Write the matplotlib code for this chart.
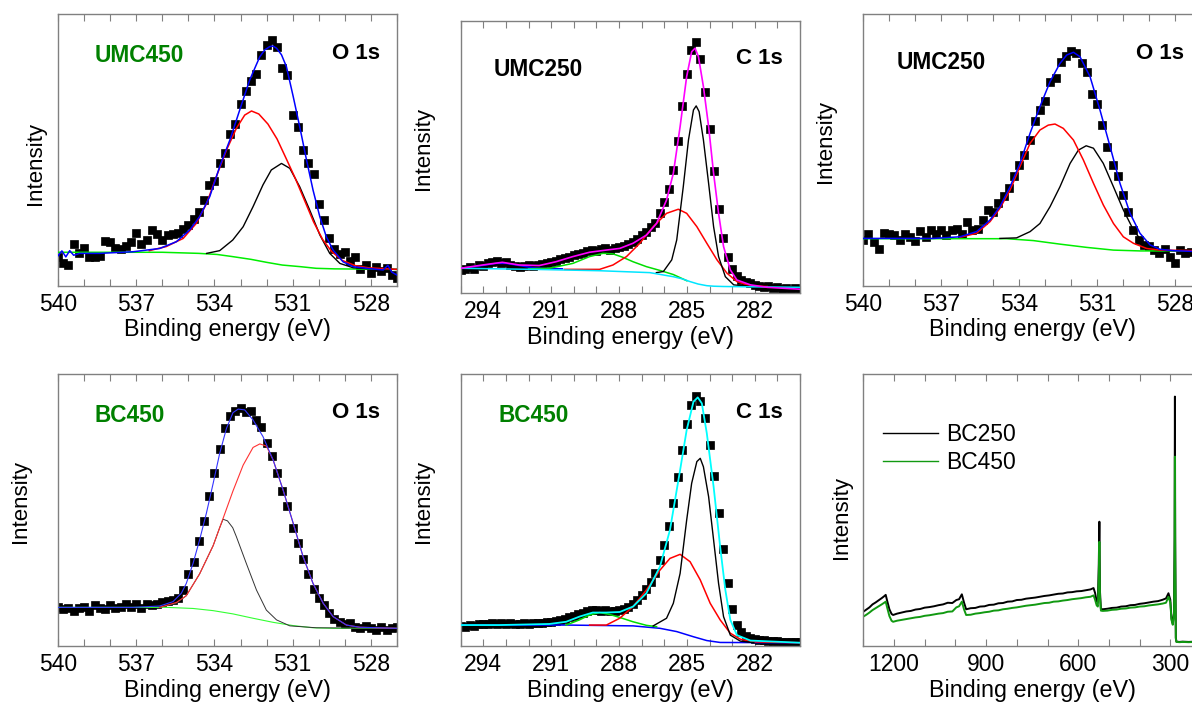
import numpy as np
import matplotlib
matplotlib.use("Agg")
import matplotlib.pyplot as plt
from matplotlib.ticker import MultipleLocator, FormatStrFormatter

plt.rcParams['font.family'] = ['Liberation Sans', 'DejaVu Sans']

# ---------------------------------------------------------------
# UMC450, O 1s  (intensity in % of the plotted range)
umc450_o_be = np.linspace(540.0, 527.0, 66)
umc450_o_counts = [
    10.5, 8.5, 7.5, 15.5, 12.0, 14.0, 10.5, 10.5, 11.0, 16.5,
    16.0, 14.0, 13.5, 14.5, 16.0, 19.5, 15.5, 17.0, 20.5, 19.0,
    17.0, 18.5, 19.0, 19.5, 21.0, 22.5, 24.5, 27.0, 31.5, 37.0,
    38.5, 45.0, 49.0, 56.0, 59.5, 67.0, 71.5, 75.5, 78.0, 85.0,
    88.5, 90.5, 88.0, 80.0, 77.5, 63.0, 58.5, 50.0, 45.0, 41.0,
    30.0, 24.0, 17.5, 13.5, 11.5, 12.5, 9.0, 10.5, 6.0, 7.5,
    4.5, 7.0, 5.5, 6.5, 4.0, 3.0]
umc450_o_env_be = [540.0, 539.85, 539.7, 539.55, 539.4, 539.17, 538.4, 537.12, 536.1,
                   535.46, 534.95, 534.57, 534.18, 533.8, 533.41, 533.03, 532.65,
                   532.26, 532.07, 531.88, 531.75, 531.62, 531.43, 531.24, 530.98,
                   530.73, 530.47, 530.22, 529.96, 529.71, 529.45, 529.07, 528.68,
                   528.17, 527.53, 527.35, 527.2, 527.0]
umc450_o_env = [11.0, 12.8, 10.6, 12.9, 11.2, 11.9, 11.9, 12.5, 13.7,
                16.2, 20.5, 25.4, 32.8, 43.8, 53.6, 64.7, 75.7,
                84.3, 86.8, 88.0, 88.2, 87.4, 85.0, 80.6, 69.6,
                58.5, 46.3, 35.2, 25.4, 18.0, 13.1, 8.8, 7.0,
                6.4, 5.8, 7.5, 5.0, 3.9]
umc450_o_red_be = [536.5, 535.85, 535.2, 534.7, 534.3, 533.93, 533.54, 533.16, 532.84,
                   532.58, 532.3, 531.95, 531.6, 531.25, 530.9, 530.55, 530.2, 529.85,
                   529.5, 529.1, 528.6, 528.1, 527.0]
umc450_o_red = [12.9, 14.4, 17.4, 22.9, 30.3, 40.1, 49.9, 57.9, 62.8,
                64.3, 63.2, 59.5, 54.0, 46.8, 39.5, 31.5, 23.5, 17.0,
                12.5, 9.3, 7.4, 6.6, 6.0]
umc450_o_black_be = [534.3, 533.8, 533.3, 532.9, 532.52, 532.14, 531.82, 531.43, 531.11,
                     530.73, 530.35, 529.96, 529.58, 529.19, 528.68, 528.17, 527.0]
umc450_o_black = [11.9, 12.9, 16.8, 21.7, 29.1, 37.1, 42.6, 45.0, 43.2,
                  36.4, 27.9, 18.7, 11.9, 8.2, 6.6, 6.3, 6.0]
umc450_o_bg_be = [540.0, 536.0, 534.6, 533.9, 533.3, 532.6, 532.0, 531.4, 530.7, 530.1, 529.4, 527.0]
umc450_o_bg = [12.3, 12.3, 11.9, 11.5, 10.7, 9.7, 8.6, 7.6, 7.0, 6.4, 6.2, 6.0]

# ---------------------------------------------------------------
# UMC250, C 1s
umc250_c_be = np.linspace(295.0, 280.0, 76)
umc250_c_counts = [
    8.5, 9.0, 9.5, 9.0, 10.5, 10.0, 11.0, 11.5, 11.8, 11.2,
    11.5, 10.5, 10.0, 9.5, 10.0, 10.5, 10.0, 10.5, 10.8, 11.0,
    11.5, 12.0, 12.5, 12.8, 13.5, 14.0, 14.5, 14.8, 15.5, 15.8,
    15.5, 16.2, 16.5, 16.0, 16.8, 17.0, 17.5, 18.2, 19.0, 20.0,
    21.5, 22.5, 24.5, 26.0, 29.5, 33.5, 38.5, 45.5, 56.0, 69.0,
    80.5, 89.5, 92.5, 86.0, 74.0, 60.5, 45.0, 31.0, 20.5, 13.5,
    9.0, 6.5, 5.0, 4.3, 3.8, 3.0, 2.7, 2.5, 2.6, 1.9,
    2.3, 1.6, 2.0, 1.3, 1.8, 1.2]
umc250_c_env_be = [295.0, 294.04, 293.16, 292.41, 291.53, 290.79, 290.04, 289.3, 288.56,
                   287.97, 287.38, 286.79, 286.34, 285.9, 285.6, 285.3, 285.01, 284.79,
                   284.64, 284.49, 284.27, 284.04, 283.82, 283.6, 283.38, 283.08, 282.79,
                   282.19, 281.45, 280.0]
umc250_c_env = [9.2, 10.4, 11.4, 10.4, 10.2, 11.6, 13.5, 15.1, 15.9,
                16.5, 18.4, 21.4, 25.7, 34.3, 44.1, 61.3, 79.7, 88.8,
                90.1, 87.0, 76.0, 61.3, 44.1, 29.4, 17.2, 8.6, 4.9,
                3.1, 2.2, 1.5]
umc250_c_black_be = [286.35, 286.04, 285.67, 285.45, 285.16, 284.93, 284.71, 284.59, 284.46,
                     284.27, 284.04, 283.82, 283.6, 283.3, 282.93, 282.19]
umc250_c_black = [7.6, 8.0, 12.3, 19.6, 39.2, 56.4, 67.4, 68.9, 66.8,
                  56.4, 40.4, 24.5, 13.5, 6.1, 3.1, 2.5]
umc250_c_red_be = [290.4, 288.86, 288.27, 287.67, 287.08, 286.49, 285.9, 285.38, 285.01,
                   284.56, 284.12, 283.67, 283.23, 282.79, 282.19, 281.45]
umc250_c_red = [8.8, 8.8, 10.4, 13.5, 18.4, 24.5, 29.4, 30.9, 29.4,
                24.5, 18.4, 12.3, 7.4, 4.3, 2.7, 2.5]
umc250_c_green_be = [292.0, 291.08, 290.04, 289.3, 288.71, 288.27, 287.82, 287.38, 286.79,
                     286.19, 285.6, 285.0]
umc250_c_green = [9.0, 9.2, 11.0, 13.5, 14.7, 14.5, 13.2, 11.6, 9.8, 8.4, 6.9, 4.6]
umc250_c_blue_be = [295.0, 294.04, 293.45, 293.0, 292.41, 291.82, 291.23, 290.5]
umc250_c_blue = [9.2, 10.2, 11.0, 11.0, 10.2, 9.4, 9.1, 9.0]
umc250_c_bg_be = [295.0, 291.8, 288.86, 286.64, 285.6, 285.2, 284.86, 284.5, 284.12, 283.8, 283.38, 280.0]
umc250_c_bg = [9.2, 8.8, 8.3, 7.6, 6.1, 5.3, 4.3, 3.4, 2.8, 2.6, 2.5, 2.2]

# ---------------------------------------------------------------
# UMC250, O 1s
umc250_o_be = np.linspace(540.0, 527.0, 66)
umc250_o_counts = [
    17.0, 19.0, 16.0, 13.5, 19.5, 19.0, 18.5, 17.0, 19.0, 18.0,
    16.5, 20.0, 18.0, 20.5, 19.0, 20.5, 18.5, 20.5, 21.0, 19.0,
    23.5, 20.5, 21.0, 24.0, 28.0, 27.0, 30.5, 33.0, 36.0, 40.5,
    44.5, 48.0, 53.5, 60.5, 64.5, 68.0, 75.0, 76.5, 82.5, 84.5,
    86.5, 85.5, 82.0, 78.5, 70.5, 67.0, 59.0, 51.0, 44.5, 40.5,
    33.5, 27.0, 20.5, 17.0, 15.0, 14.5, 13.0, 12.0, 13.5, 10.5,
    8.5, 13.0, 12.0, 12.5, 11.5, 12.0]
umc250_o_env_be = [540.0, 537.3, 536.28, 535.64, 535.12, 534.74, 534.35, 533.97, 533.58,
                   533.2, 532.81, 532.43, 532.17, 531.91, 531.66, 531.27, 530.89, 530.5,
                   530.12, 529.73, 529.35, 528.96, 528.58, 528.06, 527.0]
umc250_o_env = [17.4, 17.4, 18.0, 19.9, 24.2, 29.1, 36.4, 45.0, 56.1,
                65.9, 75.1, 81.8, 84.9, 85.9, 84.3, 76.9, 64.7, 51.2,
                37.7, 26.6, 19.3, 15.0, 13.4, 12.9, 12.5]
umc250_o_red_be = [536.28, 535.64, 535.12, 534.74, 534.35, 533.97, 533.58, 533.2, 532.88,
                   532.62, 532.3, 531.91, 531.53, 531.14, 530.76, 530.37, 529.99, 529.6,
                   529.09, 528.58, 527.0]
umc250_o_red = [17.8, 19.3, 23.6, 28.5, 35.2, 43.8, 52.4, 57.3, 59.1,
                59.5, 57.9, 53.6, 46.3, 37.7, 29.7, 22.9, 18.0, 15.6,
                13.7, 13.1, 12.9]
umc250_o_black_be = [534.74, 534.1, 533.58, 533.2, 532.81, 532.43, 532.04, 531.72, 531.42,
                     531.14, 530.76, 530.37, 529.99, 529.6, 529.22, 528.83, 528.32, 527.0]
umc250_o_black = [17.4, 17.6, 19.9, 22.9, 29.1, 36.4, 45.0, 49.9, 51.5,
                  50.6, 45.0, 36.4, 27.9, 20.5, 15.6, 13.4, 12.9, 12.9]
umc250_o_bg_be = [540.0, 534.48, 533.45, 532.43, 531.4, 530.37, 529.35, 527.0]
umc250_o_bg = [17.3, 17.3, 16.6, 15.3, 14.1, 13.1, 12.8, 12.8]

# ---------------------------------------------------------------
# BC450, O 1s
bc450_o_be = np.linspace(540.0, 527.0, 66)
bc450_o_counts = [
    14.5, 13.5, 14.0, 13.0, 14.0, 14.5, 13.0, 15.0, 14.0, 13.5,
    15.0, 14.0, 14.5, 15.5, 14.5, 15.5, 14.0, 15.5, 15.0, 15.5,
    16.0, 16.5, 17.0, 17.5, 20.5, 26.5, 31.0, 38.5, 46.0, 55.0,
    63.5, 72.5, 80.0, 84.5, 86.5, 87.5, 86.0, 86.5, 83.0, 80.5,
    74.5, 70.0, 63.5, 57.0, 51.5, 43.5, 38.0, 32.0, 26.5, 21.0,
    17.5, 15.0, 12.0, 10.0, 9.0, 8.0, 8.5, 7.0, 6.5, 7.5,
    6.5, 6.0, 7.0, 6.0, 6.5, 7.0]
bc450_o_env_be = [540.0, 537.12, 536.1, 535.59, 535.27, 535.08, 534.82, 534.57, 534.31,
                  534.05, 533.8, 533.54, 533.29, 533.09, 532.84, 532.52, 532.14, 531.75,
                  531.37, 530.98, 530.6, 530.22, 529.83, 529.45, 528.94, 528.43, 527.0]
bc450_o_env = [14.2, 14.2, 14.7, 16.3, 19.4, 23.0, 30.4, 39.0, 48.8,
               59.8, 70.8, 80.0, 85.8, 87.1, 86.8, 83.1, 77.0, 68.4,
               57.4, 45.1, 32.8, 23.0, 15.7, 10.8, 7.7, 6.9, 6.5]
bc450_o_red_be = [536.1, 535.46, 535.08, 534.57, 534.05, 533.67, 533.29, 532.9, 532.52,
                  532.26, 532.01, 531.75, 531.37, 530.98, 530.6, 530.22, 529.83, 529.45,
                  528.94, 528.43, 527.0]
bc450_o_red = [14.2, 16.0, 18.5, 26.5, 36.9, 46.9, 57.0, 66.5, 73.0,
               74.3, 73.5, 68.4, 57.4, 45.1, 32.8, 23.0, 15.7, 10.8,
               7.7, 6.9, 6.5]
bc450_o_black_be = [536.1, 535.46, 535.08, 534.57, 534.05, 533.8, 533.67, 533.5, 533.3,
                    533.16, 532.78, 532.39, 532.01, 531.62, 531.11, 530.09, 527.0]
bc450_o_black = [14.2, 15.7, 18.5, 26.5, 36.9, 43.5, 46.6, 46.0, 43.5,
                 40.2, 30.4, 20.6, 13.2, 9.6, 7.4, 6.7, 6.5]
bc450_o_bg_be = [540.0, 535.84, 534.82, 534.05, 533.29, 532.52, 531.75, 530.98, 530.22, 529.45, 527.0]
bc450_o_bg = [14.2, 14.2, 13.8, 13.0, 11.8, 10.2, 8.7, 7.5, 6.7, 6.5, 6.5]

# ---------------------------------------------------------------
# BC450, C 1s
bc450_c_be = np.linspace(295.0, 280.0, 76)
bc450_c_counts = [
    7.5, 7.0, 7.8, 7.2, 8.0, 8.2, 8.0, 8.3, 8.1, 8.4,
    8.0, 8.3, 8.2, 8.0, 8.3, 8.1, 8.4, 8.5, 8.3, 8.7,
    8.9, 9.2, 9.6, 10.0, 10.5, 11.0, 11.7, 12.3, 12.8, 13.2,
    13.3, 13.0, 13.2, 12.9, 13.0, 13.1, 13.6, 14.3, 15.3, 16.8,
    18.6, 20.8, 23.5, 27.0, 31.5, 37.0, 44.0, 52.5, 62.0, 72.0,
    81.5, 88.5, 92.0, 90.0, 84.0, 74.0, 62.5, 49.0, 35.5, 23.0,
    13.5, 7.8, 5.0, 3.8, 3.0, 2.6, 2.3, 2.1, 2.0, 1.8,
    1.7, 1.6, 1.5, 1.4, 1.4, 1.3]
bc450_c_env_be = [295.0, 293.3, 291.08, 290.34, 289.75, 289.16, 288.56, 287.97, 287.38,
                  286.79, 286.19, 285.75, 285.3, 285.01, 284.71, 284.52, 284.34, 284.12,
                  283.82, 283.53, 283.3, 283.08, 282.79, 282.19, 280.0]
bc450_c_env = [7.7, 7.7, 8.1, 8.9, 10.8, 12.3, 12.3, 12.5, 14.5,
               19.4, 29.2, 42.6, 64.7, 79.4, 89.8, 91.4, 89.2, 78.2,
               58.6, 36.5, 20.6, 9.6, 4.0, 2.0, 1.2]
bc450_c_black_be = [286.49, 285.9, 285.6, 285.3, 285.01, 284.79, 284.56, 284.41, 284.27,
                    284.04, 283.82, 283.6, 283.38, 283.08, 282.64, 282.04]
bc450_c_black = [7.4, 10.2, 15.7, 26.7, 46.3, 59.8, 67.8, 69.0, 65.9,
                 54.9, 39.0, 23.0, 10.8, 4.0, 1.8, 1.2]
bc450_c_red_be = [289.3, 288.56, 287.97, 287.38, 286.79, 286.19, 285.75, 285.3, 284.86,
                  284.41, 283.97, 283.53, 283.08, 282.64, 282.04, 280.0]
bc450_c_red = [7.7, 7.7, 10.2, 14.5, 20.6, 27.9, 32.2, 33.7, 31.0,
               24.3, 15.7, 9.6, 4.7, 2.5, 1.5, 1.2]
bc450_c_green_be = [290.34, 289.75, 289.3, 288.86, 288.41, 287.97, 287.38, 286.79, 286.34]
bc450_c_green = [7.7, 9.6, 11.4, 12.3, 11.6, 10.5, 8.9, 7.6, 7.1]
bc450_c_bg_be = [295.0, 290.34, 287.38, 286.19, 285.45, 284.71, 284.12, 283.53, 280.0]
bc450_c_bg = [7.7, 7.7, 7.4, 6.5, 5.3, 3.4, 2.0, 1.3, 1.2]

# ---------------------------------------------------------------
# survey spectra
survey_be = [1300, 1290, 1280, 1270, 1260, 1250, 1240, 1232, 1227, 1222, 1215, 1208, 1203,
             1190, 1175, 1160, 1145, 1130, 1115, 1100, 1085, 1070, 1055, 1040, 1025, 1010,
             997, 988, 979, 972, 965, 950, 935, 920, 905, 890, 875, 860, 845, 830, 815,
             800, 785, 770, 755, 740, 725, 710, 695, 680, 665, 650, 635, 620, 605, 590,
             575, 560, 550, 545, 540, 536, 533, 531, 529, 526, 520, 505, 490, 475, 460,
             445, 430, 415, 400, 385, 370, 355, 340, 325, 314, 306, 300, 296, 292, 288,
             286, 285, 284, 282, 280, 270, 260, 240, 220, 200]
bc250_survey = [12.6, 13.4, 14.2, 15.3, 16.0, 16.8, 17.6, 18.3, 18.8, 16.5, 13.5, 11.8, 11.4,
                11.9, 12.3, 12.7, 12.9, 13.4, 13.6, 14.1, 14.3, 14.6, 15.0, 15.3, 15.9, 15.8,
                16.9, 17.2, 19.0, 16.0, 13.5, 13.9, 14.0, 14.5, 14.6, 15.1, 15.2, 15.7, 15.8,
                16.3, 16.4, 16.9, 17.0, 17.4, 17.6, 17.8, 18.1, 18.4, 18.6, 18.9, 19.2, 19.3,
                19.7, 19.8, 20.1, 20.2, 20.5, 20.8, 21.3, 19.5, 16.5, 16.0, 30.0, 45.7, 20.0,
                13.6, 13.5, 13.7, 14.0, 14.1, 14.5, 14.6, 15.0, 15.1, 15.5, 15.7, 16.0, 16.3,
                16.5, 17.0, 17.5, 19.4, 17.0, 10.0, 8.3, 12.0, 40.0, 91.7, 40.0, 3.0, 1.6,
                1.5, 1.6, 1.5, 1.6, 1.5]
bc450_survey = [10.8, 11.5, 12.3, 13.2, 13.9, 14.6, 15.3, 15.9, 16.3, 14.0, 11.0, 9.3, 8.9,
                9.3, 9.6, 9.9, 10.2, 10.5, 10.7, 11.1, 11.3, 11.6, 11.9, 12.1, 12.6, 12.7,
                14.2, 14.6, 16.3, 13.5, 11.4, 11.5, 11.9, 12.1, 12.4, 12.6, 13.0, 13.1, 13.5,
                13.7, 14.0, 14.2, 14.5, 14.8, 15.0, 15.2, 15.5, 15.8, 15.9, 16.3, 16.4, 16.7,
                16.9, 17.2, 17.4, 17.6, 17.9, 18.1, 18.6, 17.0, 15.0, 14.5, 25.0, 38.3, 18.0,
                13.0, 12.9, 13.0, 13.3, 13.4, 13.7, 13.8, 14.1, 14.2, 14.5, 14.6, 14.9, 15.1,
                15.3, 15.6, 15.9, 18.1, 16.0, 9.5, 7.8, 11.0, 32.0, 69.6, 32.0, 2.8, 1.5,
                1.4, 1.5, 1.4, 1.5, 1.4]

# ---------------------------------------------------------------
W, H = 1192, 707
fig = plt.figure(figsize=(W / 100, H / 100), dpi=100)
DKGREEN = '#008000'
FS = 16.5


def panel(left, top, right, bottom):
    return fig.add_axes([left / W, 1 - bottom / H, (right - left) / W, (bottom - top) / H])


def style(ax, xlim, major, minor, ylab_xy):
    ax.set_xlim(*xlim)
    ax.set_ylim(0, 100)
    ax.xaxis.set_major_locator(MultipleLocator(major))
    ax.xaxis.set_minor_locator(MultipleLocator(minor))
    ax.xaxis.set_major_formatter(FormatStrFormatter('%d'))
    ax.set_yticks([])
    ax.tick_params(axis='x', which='both', direction='in', top=True, length=5,
                   width=0.8, color='#808080', labelsize=FS, pad=5)
    for s in ax.spines.values():
        s.set_color('#808080')
        s.set_linewidth(1.0)
    ax.set_xlabel('Binding energy (eV)', fontsize=16.8, labelpad=2)
    ax.set_ylabel('Intensity', fontsize=16, va='center')
    ax.yaxis.set_label_coords(*ylab_xy)


def tags(ax, name, name_color, name_xy, line, line_xy):
    ax.text(*name_xy, name, transform=ax.transAxes, fontsize=16.3, fontweight='bold',
            color=name_color, ha='left', va='center')
    ax.text(*line_xy, line, transform=ax.transAxes, fontsize=16, fontweight='bold',
            color='black', ha='right', va='center')


def points(ax, be, counts):
    ax.plot(be, counts, 's', color='black', ms=5.3, mew=0.5, mec='black', zorder=2)


# --- UMC450 O 1s
ax1 = panel(58, 14, 397, 285.7)
points(ax1, umc450_o_be, umc450_o_counts)
ax1.plot(umc450_o_bg_be, umc450_o_bg, color='#00ee00', lw=1.1, zorder=3)
ax1.plot(umc450_o_black_be, umc450_o_black, color='black', lw=1.0, zorder=3)
ax1.plot(umc450_o_red_be, umc450_o_red, color='red', lw=1.1, zorder=3)
ax1.plot(umc450_o_env_be, umc450_o_env, color='blue', lw=1.1, zorder=4)
style(ax1, (540, 527), 3, 1, (-0.065, 0.448))
tags(ax1, 'UMC450', DKGREEN, (0.109, 0.849), 'O 1s', (0.95, 0.856))

# --- UMC250 C 1s
ax2 = panel(460.7, 21.3, 800, 293.3)
points(ax2, umc250_c_be, umc250_c_counts)
ax2.plot(umc250_c_blue_be, umc250_c_blue, color='blue', lw=1.1, zorder=3)
ax2.plot(umc250_c_green_be, umc250_c_green, color='#00dd00', lw=1.1, zorder=3)
ax2.plot(umc250_c_red_be, umc250_c_red, color='red', lw=1.1, zorder=3)
ax2.plot(umc250_c_black_be, umc250_c_black, color='black', lw=1.0, zorder=3)
ax2.plot(umc250_c_bg_be, umc250_c_bg, color='#00e5ff', lw=1.1, zorder=3)
ax2.plot(umc250_c_env_be, umc250_c_env, color='#ff00ff', lw=1.2, zorder=4)
style(ax2, (295, 280), 3, 1, (-0.110, 0.532))
tags(ax2, 'UMC250', 'black', (0.098, 0.821), 'C 1s', (0.95, 0.865))

# --- UMC250 O 1s
ax3 = panel(863.3, 14, 1201, 285.7)
points(ax3, umc250_o_be, umc250_o_counts)
ax3.plot(umc250_o_bg_be, umc250_o_bg, color='#00ee00', lw=1.1, zorder=3)
ax3.plot(umc250_o_black_be, umc250_o_black, color='black', lw=1.0, zorder=3)
ax3.plot(umc250_o_red_be, umc250_o_red, color='red', lw=1.1, zorder=3)
ax3.plot(umc250_o_env_be, umc250_o_env, color='blue', lw=1.1, zorder=4)
style(ax3, (540, 527), 3, 1, (-0.111, 0.530))
tags(ax3, 'UMC250', 'black', (0.100, 0.823), 'O 1s', (0.95, 0.856))

# --- BC450 O 1s
ax4 = panel(58, 374, 397, 646)
points(ax4, bc450_o_be, bc450_o_counts)
ax4.plot(bc450_o_bg_be, bc450_o_bg, color='#33ff33', lw=0.8, zorder=3)
ax4.plot(bc450_o_black_be, bc450_o_black, color='#333333', lw=0.7, zorder=3)
ax4.plot(bc450_o_red_be, bc450_o_red, color='#ff3333', lw=0.8, zorder=3)
ax4.plot(bc450_o_env_be, bc450_o_env, color='#3333ff', lw=0.8, zorder=4)
style(ax4, (540, 527), 3, 1, (-0.112, 0.530))
tags(ax4, 'BC450', DKGREEN, (0.109, 0.849), 'O 1s', (0.95, 0.857))

# --- BC450 C 1s
ax5 = panel(460.7, 374, 800, 646)
points(ax5, bc450_c_be, bc450_c_counts)
ax5.plot(bc450_c_bg_be, bc450_c_bg, color='blue', lw=1.1, zorder=3)
ax5.plot(bc450_c_green_be, bc450_c_green, color='#00dd00', lw=1.1, zorder=3)
ax5.plot(bc450_c_red_be, bc450_c_red, color='red', lw=1.1, zorder=3)
ax5.plot(bc450_c_black_be, bc450_c_black, color='black', lw=1.0, zorder=3)
ax5.plot(bc450_c_env_be, bc450_c_env, color='#00ffff', lw=1.3, zorder=4)
style(ax5, (295, 280), 3, 1, (-0.110, 0.530))
tags(ax5, 'BC450', DKGREEN, (0.110, 0.846), 'C 1s', (0.95, 0.860))

# --- survey
ax6 = panel(863.3, 374, 1201, 646)
ax6.plot(survey_be, bc250_survey, color='black', lw=1.4, label='BC250')
ax6.plot(survey_be, bc450_survey, color='#119911', lw=1.4, label='BC450')
style(ax6, (1300, 200), 300, 100, (-0.064, 0.472))
leg = ax6.legend(loc='upper left', bbox_to_anchor=(0.058, 0.82), frameon=False, fontsize=FS,
                 handlelength=2.4, handletextpad=0.35, labelspacing=0.2,
                 borderaxespad=0, borderpad=0)
for h in leg.get_lines():
    h.set_linewidth(1.0)

fig.savefig('out.png', dpi=100)
